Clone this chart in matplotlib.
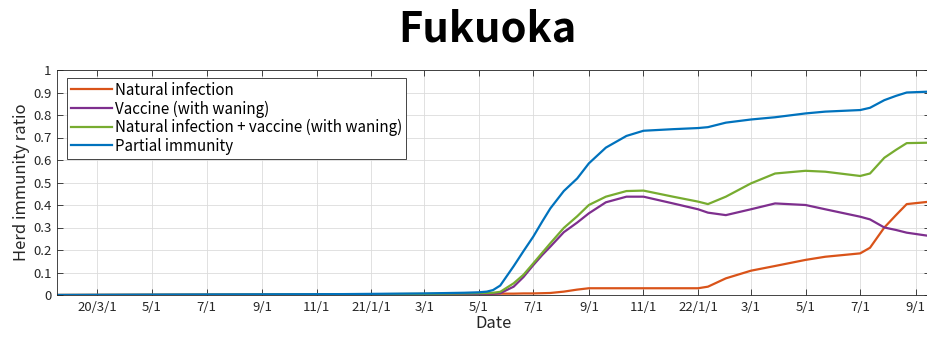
import matplotlib
matplotlib.use("Agg")
import matplotlib.pyplot as plt
import numpy as np

plt.rcParams['font.family'] = ['Noto Sans CJK JP', 'DejaVu Sans']

dates = ["2020-01-16", "2020-06-01", "2020-12-01", "2021-03-01", "2021-04-15", "2021-05-01",
         "2021-05-10", "2021-05-17", "2021-05-25", "2021-06-09", "2021-06-20", "2021-07-01",
         "2021-07-11", "2021-07-20", "2021-08-04", "2021-08-19", "2021-09-01", "2021-09-20",
         "2021-10-13", "2021-11-01", "2021-12-04", "2022-01-01", "2022-01-12", "2022-02-01",
         "2022-03-01", "2022-03-28", "2022-05-01", "2022-05-23", "2022-07-01", "2022-07-12",
         "2022-07-28", "2022-08-10", "2022-08-22", "2022-09-17"]

natural = [0.0, 0.001, 0.002, 0.003, 0.004, 0.005, 0.005, 0.005, 0.006, 0.006, 0.007, 0.007,
           0.008, 0.009, 0.015, 0.024, 0.030, 0.030, 0.030, 0.030, 0.030, 0.030, 0.037, 0.074,
           0.108, 0.129, 0.156, 0.170, 0.185, 0.210, 0.300, 0.355, 0.404, 0.415]
vaccine = [0.0, 0.0005, 0.002, 0.003, 0.004, 0.005, 0.006, 0.006, 0.008, 0.037, 0.080, 0.133,
           0.178, 0.215, 0.279, 0.322, 0.363, 0.412, 0.437, 0.437, 0.407, 0.381, 0.366, 0.355,
           0.381, 0.407, 0.400, 0.381, 0.348, 0.336, 0.300, 0.289, 0.277, 0.262]
combined = [0.0, 0.001, 0.003, 0.005, 0.007, 0.008, 0.009, 0.010, 0.014, 0.052, 0.090, 0.141,
            0.188, 0.230, 0.298, 0.350, 0.400, 0.437, 0.462, 0.464, 0.437, 0.415, 0.404, 0.437,
            0.496, 0.540, 0.552, 0.548, 0.529, 0.540, 0.610, 0.645, 0.675, 0.677]
partial = [0.0, 0.002, 0.004, 0.007, 0.010, 0.012, 0.015, 0.022, 0.042, 0.128, 0.195, 0.260,
           0.327, 0.385, 0.462, 0.518, 0.585, 0.655, 0.707, 0.730, 0.737, 0.742, 0.746, 0.766,
           0.780, 0.790, 0.807, 0.815, 0.822, 0.832, 0.866, 0.885, 0.900, 0.904]

series_labels = ["Natural infection", "Vaccine (with waning)",
                 "Natural infection + vaccine (with waning)", "Partial immunity"]
series_colors = ["#D95319", "#7E2F8E", "#77AC30", "#0072BD"]

tick_dates = ["2020-03-01", "2020-05-01", "2020-07-01", "2020-09-01", "2020-11-01",
              "2021-01-01", "2021-03-01", "2021-05-01", "2021-07-01", "2021-09-01",
              "2021-11-01", "2022-01-01", "2022-03-01", "2022-05-01", "2022-07-01",
              "2022-09-01"]
tick_labels = ["20/3/1", "5/1", "7/1", "9/1", "11/1", "21/1/1", "3/1", "5/1", "7/1", "9/1",
               "11/1", "22/1/1", "3/1", "5/1", "7/1", "9/1"]
y_ticks = [0, 0.1, 0.2, 0.3, 0.4, 0.5, 0.6, 0.7, 0.8, 0.9, 1]
y_labels = ["0", "0.1", "0.2", "0.3", "0.4", "0.5", "0.6", "0.7", "0.8", "0.9", "1"]

x = np.array(dates, dtype="datetime64[D]")

fig = plt.figure(figsize=(9.28, 3.37), dpi=100)
ax = fig.add_axes([57/928, 42/337, 873/928, 225/337])

for vals, lab, col in zip([natural, vaccine, combined, partial], series_labels, series_colors):
    ax.plot(x, vals, color=col, lw=1.6, label=lab)

ax.set_xlim(np.datetime64("2020-01-16"), np.datetime64("2020-01-16") + np.timedelta64(975, "D"))
ax.set_ylim(0, 1)
ax.set_xticks(np.array(tick_dates, dtype="datetime64[D]"))
ax.set_xticklabels(tick_labels)
ax.set_yticks(y_ticks)
ax.set_yticklabels(y_labels)
ax.tick_params(direction="in", top=True, right=True, labelsize=9.5, length=4, width=0.6,
               colors="#262626", pad=4)
ax.grid(True, color="#dcdcdc", lw=0.6)
ax.set_axisbelow(True)
for s in ax.spines.values():
    s.set_color("#262626")
    s.set_linewidth(0.6)

ax.set_xlabel("Date", fontsize=12, color="#262626", labelpad=1)
ax.set_ylabel("Herd immunity ratio", fontsize=12, color="#262626", labelpad=2)

leg = ax.legend(loc="upper left", bbox_to_anchor=(10/873, 1 - 8/225), borderaxespad=0,
                fontsize=10.9, frameon=True, fancybox=False, framealpha=1,
                edgecolor="#262626", handlelength=2.7, handletextpad=0.25,
                labelspacing=0.1, borderpad=0.25)
leg.get_frame().set_linewidth(0.6)

fig.text(487/928, 0.912, "Fukuoka", ha="center", va="center", fontsize=30, fontweight="bold",
         color="black")

fig.savefig("out.png", dpi=100)
